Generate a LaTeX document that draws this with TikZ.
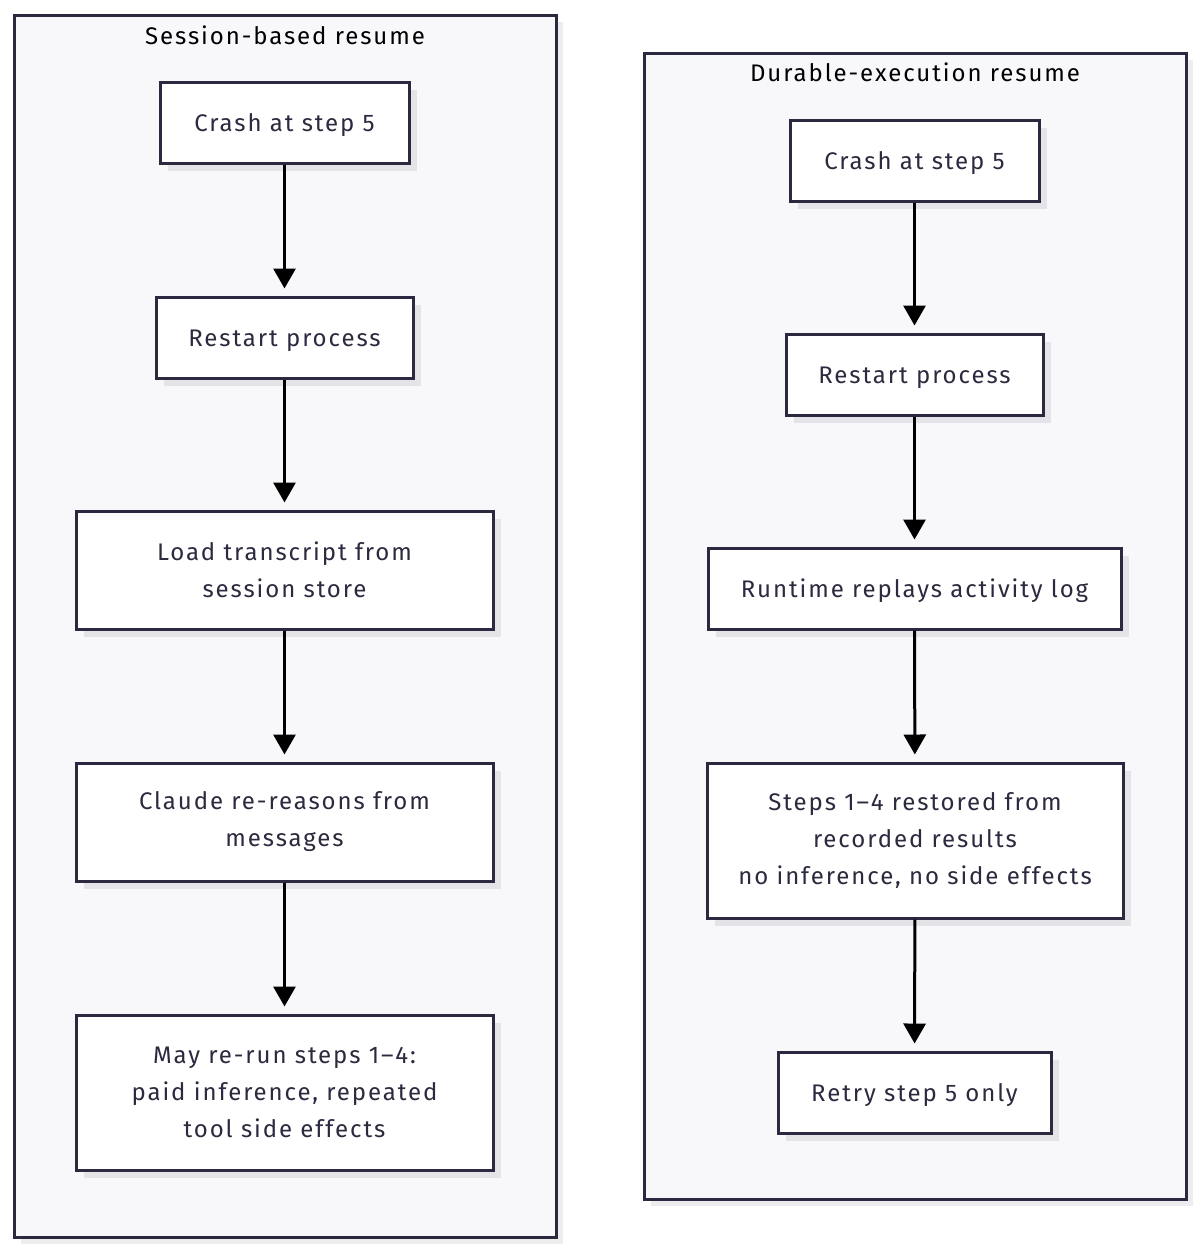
\documentclass[tikz,border=0pt]{standalone}
\usepackage{fontspec}
\setmainfont{Fira Sans}[LetterSpace=8]
\usetikzlibrary{arrows.meta,shadows}
\definecolor{ink}{HTML}{2A2940}
\definecolor{txt}{HTML}{2B2A3F}
\definecolor{cfill}{HTML}{F8F8FB}
\definecolor{shade}{HTML}{E4E4E8}
\definecolor{cshade}{HTML}{EDEDEF}
\tikzset{
  container/.style={draw=ink, line width=3pt, fill=cfill,
    general shadow={fill=cshade, shadow xshift=7pt, shadow yshift=-7pt}},
  stepbox/.style={draw=ink, line width=3pt, fill=white, text=txt, align=center,
    font=\fontsize{24}{37}\selectfont, inner sep=0pt,
    general shadow={fill=shade, shadow xshift=8pt, shadow yshift=-8pt}},
  oneline/.style={text height=24pt, text depth=6pt},
  ttl/.style={text=black, font=\fontsize{24}{26}\selectfont, inner sep=0pt},
  flow/.style={-{Triangle[width=22pt,length=20pt]}, line width=3pt, black, shorten >=7pt},
}
\begin{document}
\begin{tikzpicture}[x=1pt,y=-1pt]
\useasboundingbox (0,0) rectangle (1200,1253);
% containers
\node[container, minimum width=542pt, minimum height=1222pt, inner sep=0pt] (cl) at (285,626) {};
\node[container, minimum width=542pt, minimum height=1146pt, inner sep=0pt] (cr) at (915,626) {};
\node[ttl] (tl) at (285,35) {Session-based resume};
\node[ttl] (tr) at (915,72) {Durable-execution resume};
% left
\node[stepbox, oneline, minimum width=249pt, minimum height=81pt] (l1) at (284.5,122.5) {Crash at step 5};
\node[stepbox, oneline, minimum width=257pt, minimum height=81pt] (l2) at (284.5,337.5) {Restart process};
\node[stepbox, minimum width=417pt, minimum height=118pt] (l3) at (284.5,570) {Load transcript from\\session store};
\node[stepbox, minimum width=417pt, minimum height=118pt] (l4) at (284.5,822) {Claude re-reasons from\\messages};
\node[stepbox, minimum width=417pt, minimum height=155pt] (l5) at (284.5,1092.5) {May re-run steps 1–4:\\paid inference, repeated\\tool side effects};
% right
\node[stepbox, oneline, minimum width=249pt, minimum height=81pt] (r1) at (914.5,160.5) {Crash at step 5};
\node[stepbox, oneline, minimum width=257pt, minimum height=81pt] (r2) at (914.5,374.5) {Restart process};
\node[stepbox, oneline, minimum width=413pt, minimum height=81pt] (r3) at (914.5,588.5) {Runtime replays activity log};
\node[stepbox, minimum width=416pt, minimum height=155pt] (r4) at (915,840.5) {Steps 1–4 restored from\\recorded results\\no inference, no side effects};
\node[stepbox, oneline, minimum width=273pt, minimum height=81pt] (r5) at (914.5,1092.5) {Retry step 5 only};
% arrows
\draw[flow] (l1) -- (l2);
\draw[flow] (l2) -- (l3);
\draw[flow] (l3) -- (l4);
\draw[flow] (l4) -- (l5);
\draw[flow] (r1) -- (r2);
\draw[flow] (r2) -- (r3);
\draw[flow] (r3) -- (r4);
\draw[flow] (r4) -- (r5);
\end{tikzpicture}
\end{document}
